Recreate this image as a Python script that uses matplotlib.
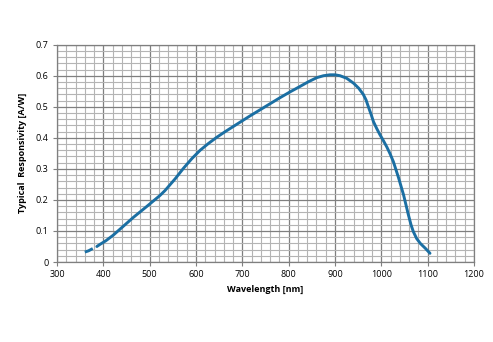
import matplotlib.pyplot as plt
from matplotlib.ticker import MultipleLocator

# dashed start of the curve
wl_dash = [360, 368, 378, 386]
resp_dash = [0.032, 0.036, 0.044, 0.050]

# solid part of the curve
wl = [386, 393, 405, 421, 443, 465, 493, 522, 533, 555, 573, 591, 609, 627,
      645, 663, 681, 700, 717, 738, 760, 781, 803, 825, 843, 861, 875, 889,
      900, 911, 925, 940, 951, 961, 967, 972, 978, 983, 990, 997, 1004, 1012,
      1019, 1026, 1037, 1048, 1058, 1064, 1069, 1076, 1084, 1095, 1105]
resp = [0.050, 0.057, 0.068, 0.086, 0.115, 0.144, 0.178, 0.214, 0.230, 0.268,
        0.302, 0.333, 0.360, 0.382, 0.402, 0.420, 0.437, 0.455, 0.471, 0.490,
        0.510, 0.529, 0.548, 0.566, 0.581, 0.594, 0.600, 0.603, 0.603, 0.600,
        0.592, 0.576, 0.560, 0.540, 0.522, 0.500, 0.475, 0.452, 0.430, 0.410,
        0.392, 0.370, 0.348, 0.323, 0.272, 0.216, 0.154, 0.120, 0.098, 0.076,
        0.060, 0.044, 0.028]

plt.rcParams["font.family"] = ["Open Sans", "DejaVu Sans"]

fig = plt.figure(figsize=(4.93, 3.42), dpi=100)
ax = fig.add_axes([0.1156, 0.2339, 0.8459, 0.6354])

line_c = "#1b6fa3"
ax.plot(wl_dash, resp_dash, c=line_c, lw=2.1, ls=(0, (3.0, 1.5)), solid_capstyle="butt")
ax.plot(wl, resp, c=line_c, lw=2.1, solid_joinstyle="round", solid_capstyle="round")

ax.set_xlim(300, 1200)
ax.set_ylim(0, 0.7)
ax.xaxis.set_major_locator(MultipleLocator(100))
ax.xaxis.set_minor_locator(MultipleLocator(20))
ax.yaxis.set_major_locator(MultipleLocator(0.1))
ax.yaxis.set_minor_locator(MultipleLocator(0.02))
ax.set_yticks([0, 0.1, 0.2, 0.3, 0.4, 0.5, 0.6, 0.7])
ax.set_yticklabels(["0", "0.1", "0.2", "0.3", "0.4", "0.5", "0.6", "0.7"])

ax.grid(which="minor", color="#b4b4b4", lw=0.8)
ax.grid(which="major", color="#7f7f7f", lw=0.9)
ax.set_axisbelow(True)
ax.tick_params(which="minor", length=0)
ax.tick_params(which="major", length=3, width=0.8, color="#7f7f7f",
               labelsize=6.5, pad=3)
for s in ax.spines.values():
    s.set_color("#7f7f7f")
    s.set_linewidth(0.9)

ax.set_xlabel("Wavelength [nm]", fontsize=6.5, fontweight="bold", labelpad=4)
ax.set_ylabel("Typical  Responsivity [A/W]", fontsize=6.5, fontweight="bold", labelpad=6)

fig.savefig("out.png", dpi=100)
